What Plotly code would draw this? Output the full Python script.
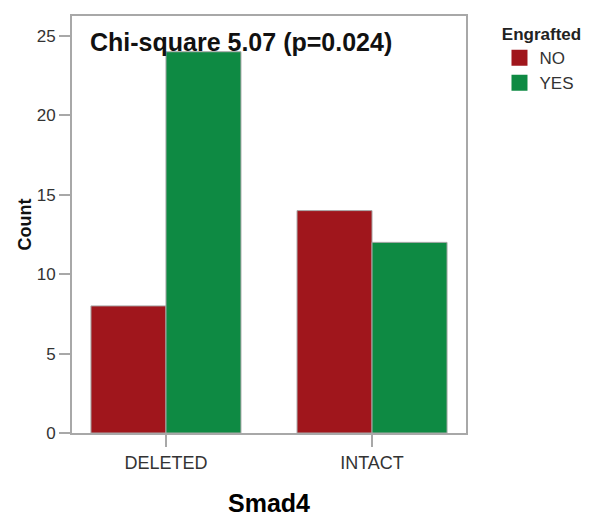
import plotly.graph_objects as go

categories = ["DELETED", "INTACT"]
no_counts = [8, 14]
yes_counts = [24, 12]
series_names = ["NO", "YES"]
y_ticks = [0, 5, 10, 15, 20, 25]

RED = "#A0161C"
GREEN = "#0E8A43"
GRID = "#A8A8A8"

fig = go.Figure()
for name, vals, col in [(series_names[0], no_counts, RED), (series_names[1], yes_counts, GREEN)]:
    fig.add_trace(go.Bar(
        x=categories, y=vals, name=name, showlegend=False,
        marker=dict(color=col, line=dict(color="#A8A8A8", width=1)),
    ))
    # legend swatch (bigger square than the default bar swatch)
    fig.add_trace(go.Scatter(
        x=[None], y=[None], mode="markers", name=name,
        marker=dict(symbol="square", size=16, color=col),
    ))

# the page body has an 8px margin, so the figure is 8px smaller and margins shifted
fig.update_layout(
    width=593, height=519,
    barmode="group", bargap=0.272, bargroupgap=0,
    plot_bgcolor="white", paper_bgcolor="white",
    margin=dict(l=64, r=135, t=6, b=94),
    font=dict(family="Arial, Liberation Sans, sans-serif", size=17, color="#333333"),
    legend=dict(
        x=1.085, y=0.995, xanchor="left", yanchor="top",
        title=dict(text="<b>Engrafted</b>", font=dict(size=17, color="#222222"), side="top center"),
        font=dict(size=17, color="#333333"),
        itemsizing="trace", itemwidth=30, tracegroupgap=0,
    ),
    annotations=[dict(
        x=0.041, y=0.938, xref="paper", yref="paper", xanchor="left", yanchor="middle",
        text="<b>Chi-square 5.07 (p=0.024)</b>", showarrow=False,
        font=dict(size=25, color="#111111"),
    )],
)

fig.update_xaxes(
    range=[-0.456, 1.456], showline=True, linecolor=GRID, linewidth=2, mirror=True,
    ticks="outside", tickcolor=GRID, ticklen=12, tickwidth=2,
    tickfont=dict(size=18),
    title=dict(text="<b>Smad4</b>", font=dict(size=25, color="#000000"), standoff=23),
)
fig.update_yaxes(
    range=[0, 26.25], tickvals=y_ticks, showgrid=False, zeroline=False,
    showline=True, linecolor=GRID, linewidth=2, mirror=True,
    ticks="outside", tickcolor=GRID, ticklen=11, tickwidth=2,
    title=dict(text="<b>Count</b>", font=dict(size=18, color="#111111"), standoff=0),
)

fig.write_html("out.html")
